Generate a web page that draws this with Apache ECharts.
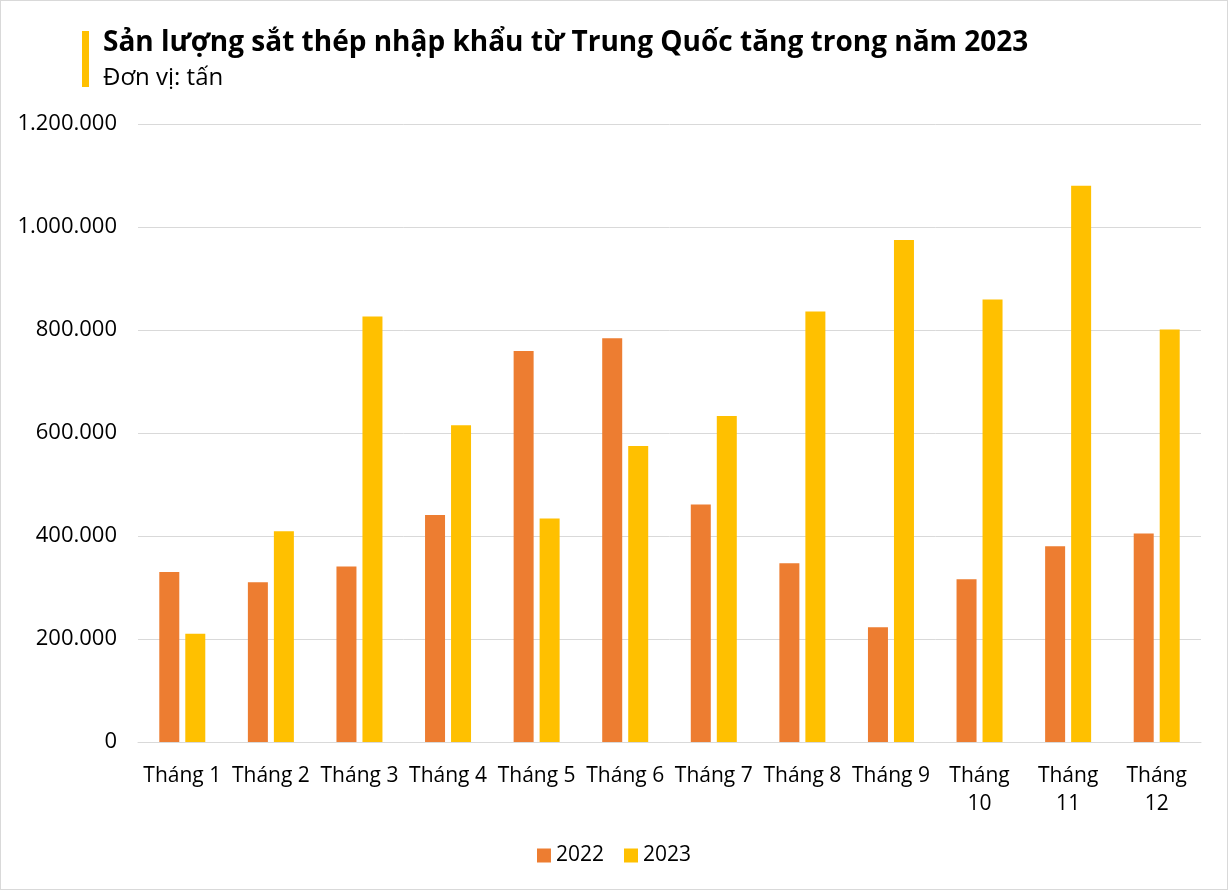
<!DOCTYPE html>
<html>
<head>
<meta charset="utf-8">
<script src="https://cdn.jsdelivr.net/npm/echarts@6/dist/echarts.min.js"></script>
<style>
html,body{margin:0;padding:0;background:#fff;}
#c{width:1228px;height:890px;box-sizing:border-box;border:1px solid #d9d9d9;}
</style>
</head>
<body>
<div id="c"></div>
<script>
const months = ["Tháng 1","Tháng 2","Tháng 3","Tháng 4","Tháng 5","Tháng 6","Tháng 7","Tháng 8","Tháng 9","Tháng 10","Tháng 11","Tháng 12"];
const seriesNames = ["2022","2023"];
const values2022 = [330000,310000,341000,441000,759000,784000,461000,347000,223000,316000,380000,405000];
const values2023 = [210000,409000,826000,615000,434000,575000,633000,836000,975000,859000,1080000,801000];
const yTicks = {min:0, max:1200000, interval:200000};

const chart = echarts.init(document.getElementById('c'));
const font = "'Open Sans', 'Noto Sans', sans-serif";
chart.setOption({
  backgroundColor:'#fff',
  animation:false,
  title:{
    text:'Sản lượng sắt thép nhập khẩu từ Trung Quốc tăng trong năm 2023',
    subtext:'Đơn vị: tấn',
    left:97, top:23,
    itemGap:9,
    textStyle:{fontFamily:font,fontWeight:'bold',fontSize:28,color:'#000'},
    subtextStyle:{fontFamily:font,fontSize:24,color:'#000'}
  },
  graphic:[{type:'rect',left:81,top:30,shape:{width:7,height:56},style:{fill:'#FFC000'}}],
  legend:{
    data:seriesNames, bottom:18, left:'center',
    itemWidth:14,itemHeight:14,itemGap:20,
    icon:'rect',
    textStyle:{fontFamily:font,fontSize:21,color:'#000'}
  },
  grid:{left:137,right:26,top:123,bottom:147},
  xAxis:{
    type:'category', data:months,
    axisLine:{lineStyle:{color:'#D9D9D9'}},
    axisTick:{show:false},
    axisLabel:{fontFamily:font,fontSize:21,color:'#000',margin:20,interval:0,lineHeight:28,
      formatter:v=>v.length>7?v.replace(' ','\n'):v}
  },
  yAxis:{
    type:'value', min:yTicks.min, max:yTicks.max, interval:yTicks.interval,
    axisLine:{show:false}, axisTick:{show:false},
    splitLine:{lineStyle:{color:'#D9D9D9'}},
    axisLabel:{fontFamily:font,fontSize:22,color:'#000',margin:21,
      formatter:v=>String(v).replace(/\B(?=(\d{3})+(?!\d))/g,'.')}
  },
  series:[
    {name:seriesNames[0],type:'bar',data:values2022,barWidth:20,barGap:'30%',itemStyle:{color:'#ED7D31'}},
    {name:seriesNames[1],type:'bar',data:values2023,barWidth:20,barGap:'30%',itemStyle:{color:'#FFC000'}}
  ]
});
</script>
</body>
</html>
